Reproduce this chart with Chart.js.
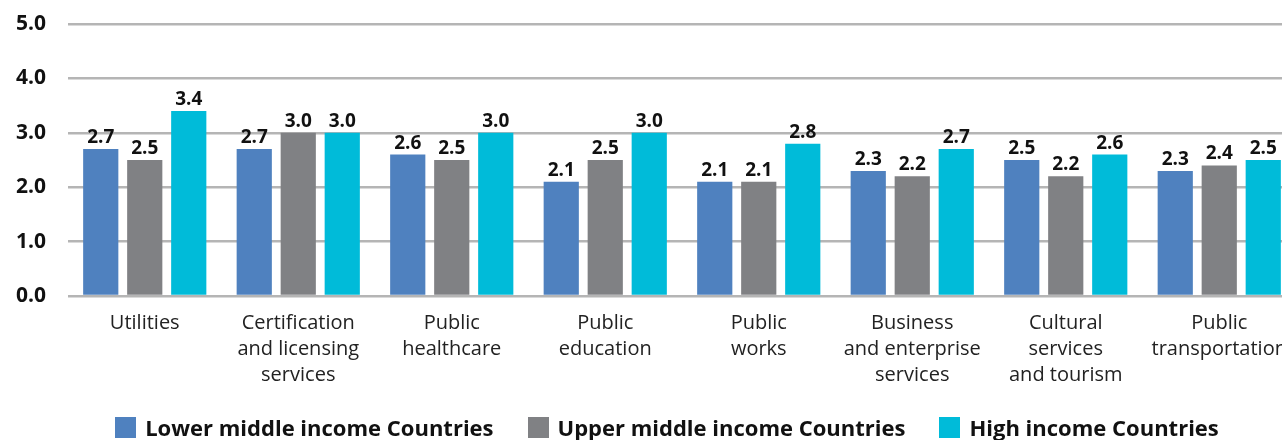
<!DOCTYPE html>
<html>
<head>
<meta charset="utf-8">
<script src="https://cdn.jsdelivr.net/npm/chart.js@4/dist/chart.umd.min.js"></script>
<style>
  html, body { margin: 0; padding: 0; background: #fff; overflow: hidden; }
  #wrap { position: relative; width: 1296px; height: 440px; }
  #chart { position: absolute; left: 0; top: 0; }
  #legend {
    position: absolute; left: 0; top: 416px; width: 1334px;
    display: flex; justify-content: center; gap: 34px;
    font-family: "Open Sans", sans-serif; font-weight: bold; font-size: 22px; color: #111;
    line-height: 23px;
  }
  #legend .item { display: flex; align-items: center; gap: 9px; white-space: nowrap; }
  #legend .box { width: 21px; height: 21px; display: inline-block; }
</style>
</head>
<body>
<div id="wrap">
  <canvas id="chart" width="1296" height="440"></canvas>
  <div id="legend"></div>
</div>
<script>
const categories = [
  ["Utilities"],
  ["Certification", "and licensing", "services"],
  ["Public", "healthcare"],
  ["Public", "education"],
  ["Public", "works"],
  ["Business", "and enterprise", "services"],
  ["Cultural", "services", "and tourism"],
  ["Public", "transportation"]
];
const lowerMiddle = [2.7, 2.7, 2.6, 2.1, 2.1, 2.3, 2.5, 2.3];
const upperMiddle = [2.5, 3.0, 2.5, 2.5, 2.1, 2.2, 2.2, 2.4];
const highIncome = [3.4, 3.0, 3.0, 3.0, 2.8, 2.7, 2.6, 2.5];
const seriesNames = ["Lower middle income Countries", "Upper middle income Countries", "High income Countries"];
const colors = ["#4f81bf", "#808184", "#00bbd9"];

// value labels above each bar
const barLabels = {
  id: "barLabels",
  afterDatasetsDraw(chart) {
    const ctx = chart.ctx;
    ctx.save();
    ctx.font = "bold 19px 'Open Sans', sans-serif";
    ctx.fillStyle = "#111";
    ctx.textAlign = "center";
    ctx.textBaseline = "alphabetic";
    chart.data.datasets.forEach((ds, i) => {
      chart.getDatasetMeta(i).data.forEach((bar, j) => {
        ctx.fillText(ds.data[j].toFixed(1), bar.x, bar.y - 6);
      });
    });
    ctx.restore();
  }
};

const chart = new Chart(document.getElementById("chart"), {
  type: "bar",
  data: {
    labels: categories,
    datasets: [
      { label: seriesNames[0], data: lowerMiddle, backgroundColor: colors[0] },
      { label: seriesNames[1], data: upperMiddle, backgroundColor: colors[1] },
      { label: seriesNames[2], data: highIncome, backgroundColor: colors[2] }
    ]
  },
  options: {
    responsive: false,
    animation: false,
    categoryPercentage: 0.86,
    barPercentage: 0.8,
    layout: { padding: { top: 24, bottom: 0, left: 0, right: 0 } },
    plugins: {
      legend: { display: false },
      tooltip: { enabled: false }
    },
    scales: {
      x: {
        afterFit: s => { s.height = 144; },
        grid: { display: false },
        border: { display: false },
        ticks: {
          color: "#222",
          padding: 6,
          maxRotation: 0,
          autoSkip: false,
          font: { family: "'Open Sans', sans-serif", size: 20, lineHeight: "26px" }
        }
      },
      y: {
        min: 0,
        max: 5,
        afterFit: s => { s.width = 68; s.paddingTop = 0; s.paddingBottom = 0; },
        grid: { color: "#b5b5b5", lineWidth: 2.5, drawTicks: false },
        border: { display: false },
        ticks: {
          stepSize: 1,
          padding: 22,
          color: "#111",
          font: { family: "'Open Sans', sans-serif", size: 21, weight: "bold" },
          callback: v => v.toFixed(1)
        }
      }
    }
  },
  plugins: [barLabels]
});

const legend = document.getElementById("legend");
chart.data.datasets.forEach(ds => {
  const item = document.createElement("span");
  item.className = "item";
  const box = document.createElement("span");
  box.className = "box";
  box.style.background = ds.backgroundColor;
  item.appendChild(box);
  item.appendChild(document.createTextNode(ds.label));
  legend.appendChild(item);
});
</script>
</body>
</html>
